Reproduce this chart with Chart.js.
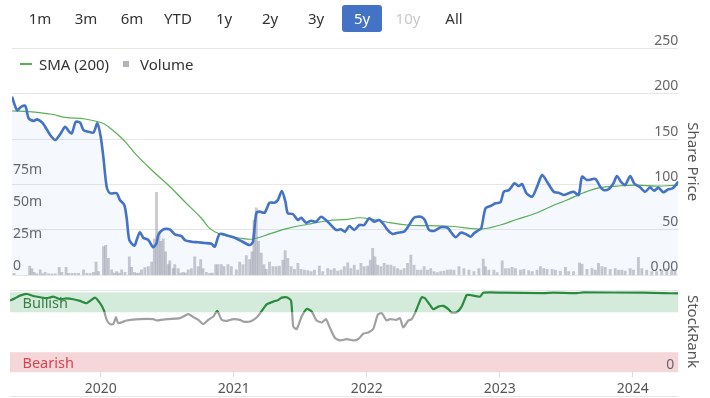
<!DOCTYPE html>
<html><head><meta charset="utf-8">
<script src="https://cdn.jsdelivr.net/npm/chart.js@4.4.1/dist/chart.umd.min.js"></script>
<style>
html,body{margin:0;padding:0;background:#fff;}
body{width:710px;height:398px;position:relative;overflow:hidden;font-family:"Noto Sans",sans-serif;}
#btns{position:absolute;left:20px;top:5px;display:flex;z-index:2;}
.btn{width:40px;height:27px;line-height:27px;margin-right:6px;text-align:center;font-size:15px;color:#333;border-radius:3px;}
.btn.active{background:#4472c4;color:#fff;}
.btn.disabled{color:#c8c8c8;}
#legend{position:absolute;left:20px;top:53px;height:21px;display:flex;align-items:center;font-size:15px;color:#333;z-index:2;}
.lg-line{width:12px;height:2px;background:#57b153;margin-right:7px;}
.lg-sq{width:6px;height:6px;background:#b4b4ba;margin-left:14px;margin-right:11px;}
#top{position:absolute;left:0;top:0;}
#bottom{position:absolute;left:0;top:280px;}
#navline{position:absolute;left:10px;top:396px;width:668px;height:1px;background:#e6e6e6;z-index:2;}
</style>
</head><body>
<div id="btns"></div>
<div id="legend"><div class="lg-line"></div><span>SMA (200)</span><div class="lg-sq"></div><span>Volume</span></div>
<canvas id="top" width="710" height="290"></canvas>
<canvas id="bottom" width="710" height="120"></canvas>
<div id="navline"></div>
<script>
// ---------- data (x values are decimal years) ----------
const rangeButtons = ['1m','3m','6m','YTD','1y','2y','3y','5y','10y','All'];
const activeButton = '5y';
const disabledButton = '10y';
const xMin = 2019.318, xMax = 2024.343;
const yearTicks = [2020, 2021, 2022, 2023, 2024];
const priceTicks = [0, 50, 100, 150, 200, 250];
const volumeTicks = [0, 25, 50, 75];

const priceDates = [2019.318,2019.356,2019.388,2019.418,2019.444,2019.481,2019.506,2019.544,2019.568,2019.606,
2019.644,2019.681,2019.719,2019.744,2019.769,2019.799,2019.832,2019.857,2019.895,2019.932,
2019.962,2019.987,2020.008,2020.032,2020.057,2020.108,2020.132,2020.165,2020.183,2020.203,
2020.241,2020.258,2020.283,2020.308,2020.346,2020.383,2020.408,2020.421,2020.459,2020.508,
2020.546,2020.596,2020.621,2020.671,2020.722,2020.771,2020.822,2020.847,2020.884,2020.947,
2020.997,2021.047,2021.110,2021.135,2021.160,2021.185,2021.223,2021.260,2021.298,2021.323,
2021.353,2021.380,2021.398,2021.436,2021.474,2021.498,2021.536,2021.574,2021.611,2021.649,
2021.699,2021.762,2021.799,2021.829,2021.862,2021.899,2021.937,2021.974,2022.012,2022.050,
2022.087,2022.125,2022.150,2022.188,2022.226,2022.275,2022.313,2022.350,2022.401,2022.431,
2022.463,2022.501,2022.551,2022.602,2022.626,2022.664,2022.702,2022.739,2022.777,2022.802,
2022.839,2022.857,2022.889,2022.927,2022.965,2023.002,2023.027,2023.065,2023.108,2023.140,
2023.165,2023.198,2023.241,2023.278,2023.316,2023.353,2023.403,2023.441,2023.478,2023.516,
2023.553,2023.591,2023.617,2023.654,2023.717,2023.754,2023.779,2023.817,2023.854,2023.880,
2023.910,2023.942,2023.980,2024.010,2024.055,2024.093,2024.130,2024.160,2024.193,2024.230,
2024.268,2024.301,2024.343];
const priceValues = [196.8,182,185.8,186.9,173,170,171.8,168.5,163.7,154.5,
149,155.3,163.7,159,156.4,169.2,168.1,160,158.2,157.1,
167.4,152.6,128.8,97.5,90.2,90.2,82.8,77.3,62.6,38.6,
32.3,38.6,47.1,41.2,38.6,30.6,35,44.1,50.4,50.4,
44.9,43,38.6,36.8,36.1,35.3,34.5,31.3,45.3,43.4,
41.2,37.5,33.1,36.8,68.1,69.9,68.8,79.8,79.8,82.8,
92.7,80.9,68.1,67.3,60.7,63.2,57.7,59.9,58.8,64.3,
58.8,49.7,50.4,47.8,54.1,49.7,55.2,55.2,62.6,58.8,
60.7,55.2,49.7,45.3,46.7,47.8,55.2,63.2,64.3,60.7,
49.7,48.6,52.6,52.2,47.8,41.6,46.7,45.3,42.3,46,
49.7,51.5,73.6,76.2,79.1,80.2,91.9,93.7,101.2,98.2,
100.4,90.2,86.4,97.5,110.4,103,91.9,90.8,88.3,90.2,
91.9,88.3,108.5,104.9,106,97.5,93.8,94.6,101.2,109.3,
103,99.3,109.3,101.2,96.8,91.9,96.8,93,96.4,91.3,
94.6,95.7,103];

const smaDates = [2019.318,2019.444,2019.619,2019.719,2019.869,2019.995,2020.045,2020.120,2020.183,2020.245,
2020.371,2020.496,2020.621,2020.747,2020.809,2020.884,2020.972,2021.047,2021.135,2021.273,
2021.398,2021.549,2021.699,2021.850,2021.937,2022.025,2022.150,2022.301,2022.451,2022.626,
2022.852,2023.002,2023.128,2023.253,2023.378,2023.504,2023.629,2023.754,2023.880,2024.030,
2024.180,2024.343];
const smaValues = [181,180.3,177.4,174,172.2,168.1,163.7,154.5,145.3,134.3,
115.9,99.3,80.9,62.6,51.5,45.3,42,40.5,39.7,46,
51.5,56,59.9,61.5,63.2,61.8,58.2,55.2,54.4,53.8,
50.8,55.2,61.5,67.3,75.4,82.8,90.8,96.4,98.2,99.3,
98.2,99.3];

// volume in millions
const volumeDates = [2019.333,2019.451,2019.468,2019.486,2019.506,2019.531,2019.549,2019.568,2019.594,2019.619,
2019.644,2019.674,2019.694,2019.726,2019.744,2019.769,2019.794,2019.820,2019.857,2019.882,
2019.907,2019.932,2019.952,2019.970,2020.008,2020.025,2020.045,2020.070,2020.090,2020.108,
2020.125,2020.145,2020.170,2020.203,2020.220,2020.241,2020.258,2020.275,2020.295,2020.320,
2020.346,2020.371,2020.391,2020.408,2020.426,2020.441,2020.459,2020.476,2020.496,2020.508,
2020.534,2020.546,2020.571,2020.591,2020.609,2020.626,2020.647,2020.671,2020.696,2020.722,
2020.741,2020.759,2020.784,2020.809,2020.829,2020.854,2020.872,2020.897,2020.917,2020.947,
2020.972,2021.010,2021.035,2021.060,2021.085,2021.110,2021.128,2021.143,2021.160,2021.177,
2021.198,2021.218,2021.235,2021.260,2021.286,2021.311,2021.335,2021.361,2021.378,2021.398,
2021.423,2021.448,2021.474,2021.498,2021.523,2021.549,2021.574,2021.599,2021.636,2021.662,
2021.699,2021.724,2021.749,2021.774,2021.799,2021.824,2021.850,2021.874,2021.899,2021.925,
2021.950,2021.974,2022.000,2022.020,2022.038,2022.055,2022.075,2022.100,2022.125,2022.150,
2022.175,2022.200,2022.226,2022.250,2022.275,2022.301,2022.326,2022.350,2022.376,2022.401,
2022.426,2022.451,2022.476,2022.501,2022.526,2022.551,2022.576,2022.602,2022.626,2022.651,
2022.689,2022.726,2022.764,2022.802,2022.839,2022.872,2022.889,2022.914,2022.952,2022.977,
2023.015,2023.040,2023.065,2023.090,2023.115,2023.153,2023.178,2023.215,2023.241,2023.278,
2023.303,2023.328,2023.353,2023.391,2023.416,2023.453,2023.492,2023.516,2023.553,2023.598,
2023.617,2023.654,2023.692,2023.717,2023.741,2023.767,2023.792,2023.829,2023.867,2023.892,
2023.917,2023.942,2023.980,2024.005,2024.042,2024.068,2024.105,2024.143,2024.180,2024.218,
2024.256,2024.293,2024.318];
const volumeValues = [1.3,7,5,2,1,4,1,2,1,1,
1,6,2,6,1.3,1.3,1.3,1.3,4,1.3,
1.3,2,10,2.6,22,23,13,4,1.5,2.6,
1.5,4,2,14,6,2,1.3,1.5,4,5.7,
6.5,10,28,64,33.5,26,28,18,8,11,
5,8,5,1.5,2,1.5,4,5,14,6.5,
12,5,2,1.3,1.5,8,8,8,6.5,8,
6.5,4,10,8,15,12,18,42.5,52,26,
17,8,4.4,10,6.5,6.5,7,11.6,19,13,
6.5,4.4,9,4.4,3.9,3.4,2.6,3.9,7,2.6,
5,3.9,5,3,3.9,6.5,9.5,5,7.7,3.9,
9,6.5,7,11.6,20.6,14,7.7,6.5,9,7.7,
7.7,6.5,5,3.9,5,9,15.5,7.7,3.9,3.9,
6.5,3.9,5,2.6,1.8,2.6,3,3.9,4,3.9,
6.5,5,3.9,2.6,5,12.4,6.5,3.9,3.9,1.8,
11,5,5,5.9,5,3.9,4.4,3.4,2.6,3.9,
6.5,5,4.4,4.4,3.9,3,6,2.6,2.6,9.5,
8.5,4.4,5,3.9,9,6.5,5.9,4.4,5,3.9,
3.9,3,5,3.9,13.7,5,3.9,2.6,2.6,3.9,
5,3.9,3.9];

const rankDates = [2019.318,2019.356,2019.393,2019.444,2019.493,2019.544,2019.594,2019.644,2019.694,2019.744,
2019.794,2019.844,2019.895,2019.957,2019.995,2020.025,2020.045,2020.070,2020.095,2020.115,
2020.132,2020.195,2020.295,2020.395,2020.421,2020.496,2020.596,2020.659,2020.696,2020.734,
2020.771,2020.809,2020.847,2020.877,2020.910,2020.947,2020.997,2021.047,2021.072,2021.123,
2021.173,2021.211,2021.248,2021.298,2021.335,2021.361,2021.398,2021.431,2021.448,2021.474,
2021.511,2021.549,2021.586,2021.624,2021.662,2021.694,2021.724,2021.762,2021.799,2021.850,
2021.899,2021.937,2021.974,2022.012,2022.050,2022.083,2022.113,2022.150,2022.175,2022.226,
2022.250,2022.275,2022.313,2022.338,2022.363,2022.388,2022.414,2022.438,2022.476,2022.501,
2022.538,2022.576,2022.614,2022.639,2022.677,2022.714,2022.752,2022.777,2022.852,2022.877,
2023.027,2023.328,2023.403,2023.579,2023.629,2024.080,2024.230,2024.343];
const rankValues = [89.6,92.5,95.8,97.9,95.4,93.8,92.5,94.5,91.3,92.5,
91.3,89.2,86.3,93.3,86.3,77.1,65.5,60.2,60.2,68.9,
61.4,64.7,66.4,66.4,64.7,66.4,67.7,72.6,68.9,65.5,
60.2,65.5,69.7,76.7,65.5,64.3,66.4,65.5,63.4,63.4,
68.4,76.7,85,88.3,90.4,93.3,93.8,89.6,57.2,54,
69.7,79.2,75.9,64.7,62.2,66.4,55.2,42.8,39.8,41.5,
39.8,41.5,48.1,49.8,54.4,71.8,73.9,64.7,66.4,65.5,
67.7,56,64.7,66.4,73.9,84.2,93.8,92.5,84.2,78.9,
82.1,83,78.9,74.6,75.1,82.1,96.6,96.6,94.5,99.5,
99.5,99,99.5,99,99.8,99.5,99,98.6];

const bullishRange = [75, 100];
const bearishRange = [0, 25];
const bandLabels = ['Bullish', 'Bearish'];
const rankThreshold = 75;

// ---------- helpers ----------
const pts = (xs, ys) => xs.map((x, i) => ({x, y: ys[i]}));
Chart.defaults.font.family = '"Noto Sans", sans-serif';
Chart.defaults.color = '#666';

// buttons
const btnBox = document.getElementById('btns');
rangeButtons.forEach(t => {
  const d = document.createElement('div');
  d.className = 'btn' + (t === activeButton ? ' active' : '') + (t === disabledButton ? ' disabled' : '');
  d.textContent = t;
  btnBox.appendChild(d);
});

const xScale = {
  type: 'linear', min: xMin, max: xMax, offset: false,
  afterBuildTicks: ax => { ax.ticks = yearTicks.map(v => ({value: v})); }
};

// ---------- top chart ----------
new Chart(document.getElementById('top'), {
  type: 'line',
  data: {
    datasets: [
      { type: 'line', label: 'Price', data: pts(priceDates, priceValues), yAxisID: 'y',
        borderColor: '#4472c4', borderWidth: 2.6, pointRadius: 0, tension: 0.25,
        fill: 'origin', backgroundColor: 'rgba(68,114,196,0.05)', order: 1 },
      { type: 'line', label: 'SMA (200)', data: pts(smaDates, smaValues), yAxisID: 'y',
        borderColor: '#57b153', borderWidth: 1.2, pointRadius: 0, tension: 0.4, fill: false, order: 2 },
      { type: 'bar', label: 'Volume', data: pts(volumeDates, volumeValues), yAxisID: 'yv',
        backgroundColor: 'rgba(150,150,160,0.5)', barThickness: 2.2, order: 3 }
    ]
  },
  options: {
    responsive: false, animation: false, devicePixelRatio: 1,
    layout: { padding: { left: 10, right: 0, top: 48.5, bottom: 15 } },
    plugins: { legend: { display: false }, tooltip: { enabled: false } },
    scales: {
      x: Object.assign({}, xScale, { display: false }),
      y: {
        position: 'right', min: 0, max: 250,
        afterBuildTicks: ax => { ax.ticks = priceTicks.map(v => ({value: v})); },
        ticks: { mirror: true, padding: 0, labelOffset: -7.5, font: { size: 14 }, color: '#666',
          callback: v => v === 0 ? '0.00' : String(v) },
        grid: { color: '#e6e6e6', drawTicks: false },
        border: { display: false },
        title: { display: true, text: 'Share Price', font: { size: 15 }, color: '#555',
          padding: { top: 9, bottom: 4.7 } }
      },
      yv: {
        position: 'left', min: 0, max: 175.5,
        afterBuildTicks: ax => { ax.ticks = volumeTicks.map(v => ({value: v})); },
        ticks: { mirror: true, padding: 1, labelOffset: -8.5, font: { size: 14 }, color: '#666',
          callback: v => v === 0 ? '0' : v + 'm' },
        grid: { display: false, drawTicks: false },
        border: { display: false }
      }
    }
  }
});

// ---------- bottom chart ----------
const bandPlugin = {
  id: 'bands',
  beforeDraw(chart) {
    const {ctx, chartArea: {left, right}, scales: {y}} = chart;
    const bands = [
      {r: bullishRange, fill: '#d4eadb', text: '#3a7d44', label: bandLabels[0]},
      {r: bearishRange, fill: '#f5d6d9', text: '#d64550', label: bandLabels[1]}
    ];
    ctx.save();
    bands.forEach(b => {
      const y1 = y.getPixelForValue(b.r[1]), y2 = y.getPixelForValue(b.r[0]);
      ctx.fillStyle = b.fill;
      ctx.fillRect(left, y1, right - left, y2 - y1);
      ctx.fillStyle = b.text;
      ctx.font = '14.5px "Noto Sans"';
      ctx.textBaseline = 'middle';
      ctx.textAlign = 'left';
      ctx.fillText(b.label, left + 12.5, (y1 + y2) / 2 + 2);
    });
    ctx.restore();
  }
};

new Chart(document.getElementById('bottom'), {
  type: 'line',
  data: {
    datasets: [{
      label: 'StockRank', data: pts(rankDates, rankValues),
      borderWidth: 2.2, pointRadius: 0, tension: 0.2, fill: false,
      borderColor(c) {
        const chart = c.chart, ca = chart.chartArea;
        if (!ca) return '#a0a0a0';
        const p = chart.scales.y.getPixelForValue(rankThreshold);
        const f = Math.min(1, Math.max(0, (p - ca.top) / (ca.bottom - ca.top)));
        const g = chart.ctx.createLinearGradient(0, ca.top, 0, ca.bottom);
        g.addColorStop(0, '#2a8a3e'); g.addColorStop(f, '#2a8a3e');
        g.addColorStop(f, '#a0a0a0'); g.addColorStop(1, '#a0a0a0');
        return g;
      }
    }]
  },
  options: {
    responsive: false, animation: false, devicePixelRatio: 1,
    layout: { padding: { left: 10, right: 0, top: 10.7, bottom: 0 } },
    plugins: { legend: { display: false }, tooltip: { enabled: false } },
    scales: {
      x: Object.assign({}, xScale, {
        ticks: { autoSkip: false, maxRotation: 0, padding: 3, font: { size: 14 }, color: '#555',
          callback: v => String(v) },
        grid: { drawOnChartArea: false, drawTicks: true, tickLength: 5, tickColor: '#dcdcdc' },
        border: { display: false }
      }),
      y: {
        position: 'right', min: 0, max: 102,
        afterBuildTicks: ax => { ax.ticks = [{value: 0}, {value: 102}]; },
        ticks: { mirror: true, padding: -4, labelOffset: -7.5, font: { size: 14 }, color: '#666',
          callback: v => v === 0 ? '0' : '' },
        grid: { color: c => c.tick && c.tick.value === 0 ? 'rgba(0,0,0,0)' : '#e6e6e6', drawTicks: false },
        border: { display: false },
        title: { display: true, text: 'StockRank', font: { size: 15 }, color: '#555',
          padding: { top: 9, bottom: 12.7 } }
      }
    }
  },
  plugins: [bandPlugin]
});
</script>
</body></html>
